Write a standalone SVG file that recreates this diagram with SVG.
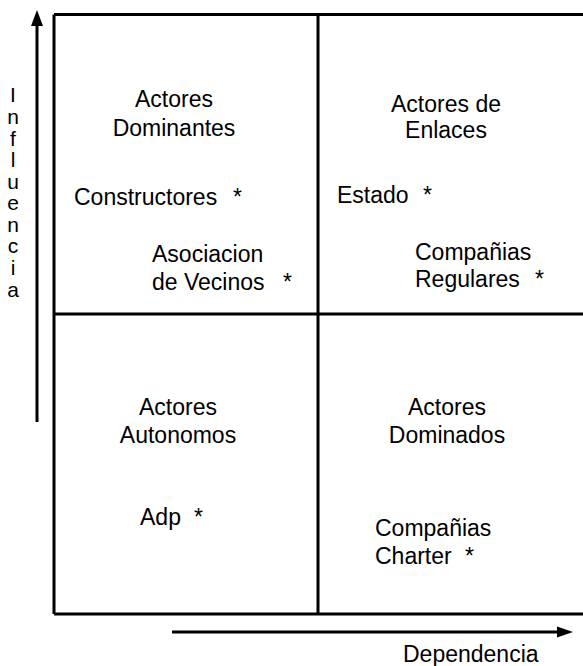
<svg xmlns="http://www.w3.org/2000/svg" width="583" height="666" viewBox="0 0 583 666">
<style>
text{font-family:"Liberation Sans",Arial,sans-serif;font-size:23px;fill:#000}
.c{text-anchor:middle}
.v{text-anchor:middle;font-size:21px}
.ln{stroke:#000;stroke-width:3;fill:none}
</style>
<rect width="583" height="666" fill="#fff"/>
<g id="grid">
<path class="ln" d="M54 14.5H583M54 614H583M54 14.5V614M318 14.5V614M54 314H583"/>
</g>
<g id="connectors">
<line class="ln" x1="37" y1="422" x2="37" y2="24"/>
<polygon points="37,10 31,26 43,26" fill="#000"/>
<line class="ln" x1="172" y1="632" x2="558" y2="632"/>
<polygon points="573,632 557,626.5 557,637.5" fill="#000"/>
</g>
<g id="axis-y">
<text class="v" x="13" y="102">I</text>
<text class="v" x="13" y="124">n</text>
<text class="v" x="13" y="146">f</text>
<text class="v" x="13" y="167">l</text>
<text class="v" x="13" y="189">u</text>
<text class="v" x="13" y="210">e</text>
<text class="v" x="13" y="232">n</text>
<text class="v" x="13" y="253">c</text>
<text class="v" x="13" y="275">i</text>
<text class="v" x="13" y="297">a</text>
</g>
<g id="axis-x">
<text x="403" y="662">Dependencia</text>
</g>
<g id="q-dominantes">
<text class="c" x="174" y="107">Actores</text>
<text class="c" x="174" y="136">Dominantes</text>
<text x="74" y="205">Constructores</text><text x="233" y="205">*</text>
<text x="152" y="262">Asociacion</text>
<text x="152" y="290">de Vecinos</text><text x="283" y="290">*</text>
</g>
<g id="q-enlaces">
<text class="c" x="446" y="112">Actores de</text>
<text class="c" x="446" y="138">Enlaces</text>
<text x="337" y="203">Estado</text><text x="423" y="203">*</text>
<text x="415" y="260">Compañias</text>
<text x="415" y="287">Regulares</text><text x="535" y="287">*</text>
</g>
<g id="q-autonomos">
<text class="c" x="178" y="415">Actores</text>
<text class="c" x="178" y="443">Autonomos</text>
<text x="140" y="525">Adp</text><text x="194" y="525">*</text>
</g>
<g id="q-dominados">
<text class="c" x="447" y="415">Actores</text>
<text class="c" x="447" y="443">Dominados</text>
<text x="375" y="536">Compañias</text>
<text x="375" y="564">Charter</text><text x="465" y="564">*</text>
</g>
</svg>
